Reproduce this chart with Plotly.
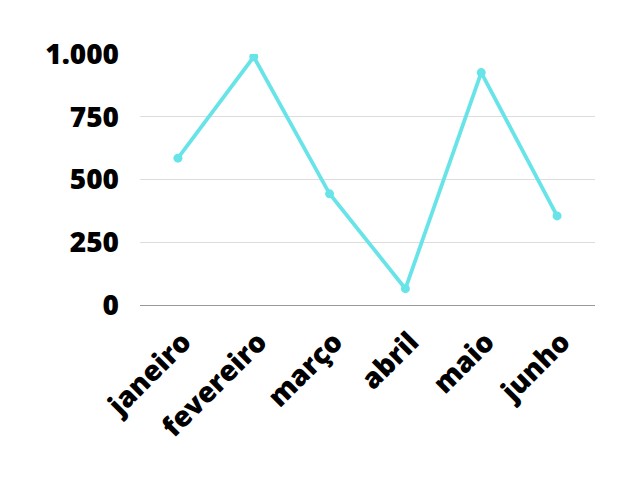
import plotly.graph_objects as go

months = ["janeiro", "fevereiro", "março", "abril", "maio", "junho"]
values = [585, 989, 443, 65, 926, 355]
y_ticks = [0, 250, 500, 750, 1000]

fig = go.Figure(go.Scatter(
    x=months, y=values, mode="lines+markers",
    line=dict(color="#68E4E8", width=3.8),
    marker=dict(color="#68E4E8", size=9),
))

fig.update_layout(
    width=640, height=480,
    margin=dict(l=132, r=53, t=46, b=183),
    plot_bgcolor="white", paper_bgcolor="white",
    separators=",.",
    showlegend=False,
    font=dict(family="Open Sans", color="black"),
)
fig.update_xaxes(
    range=[-0.5, 5.5],
    tickangle=-45, tickfont=dict(size=28, family="Open Sans", weight=800),
    showgrid=False, showline=False, ticklabelstandoff=14, ticklabelshift=5,
)
fig.update_yaxes(
    range=[0, 1000], tickvals=y_ticks, tickformat=",d",
    tickfont=dict(size=28, family="Open Sans", weight=800),
    gridcolor="#dddddd", gridwidth=1,
    zeroline=True, zerolinecolor="#999999", zerolinewidth=1,
    ticklabelstandoff=20,
)
fig.write_html("out.html")
